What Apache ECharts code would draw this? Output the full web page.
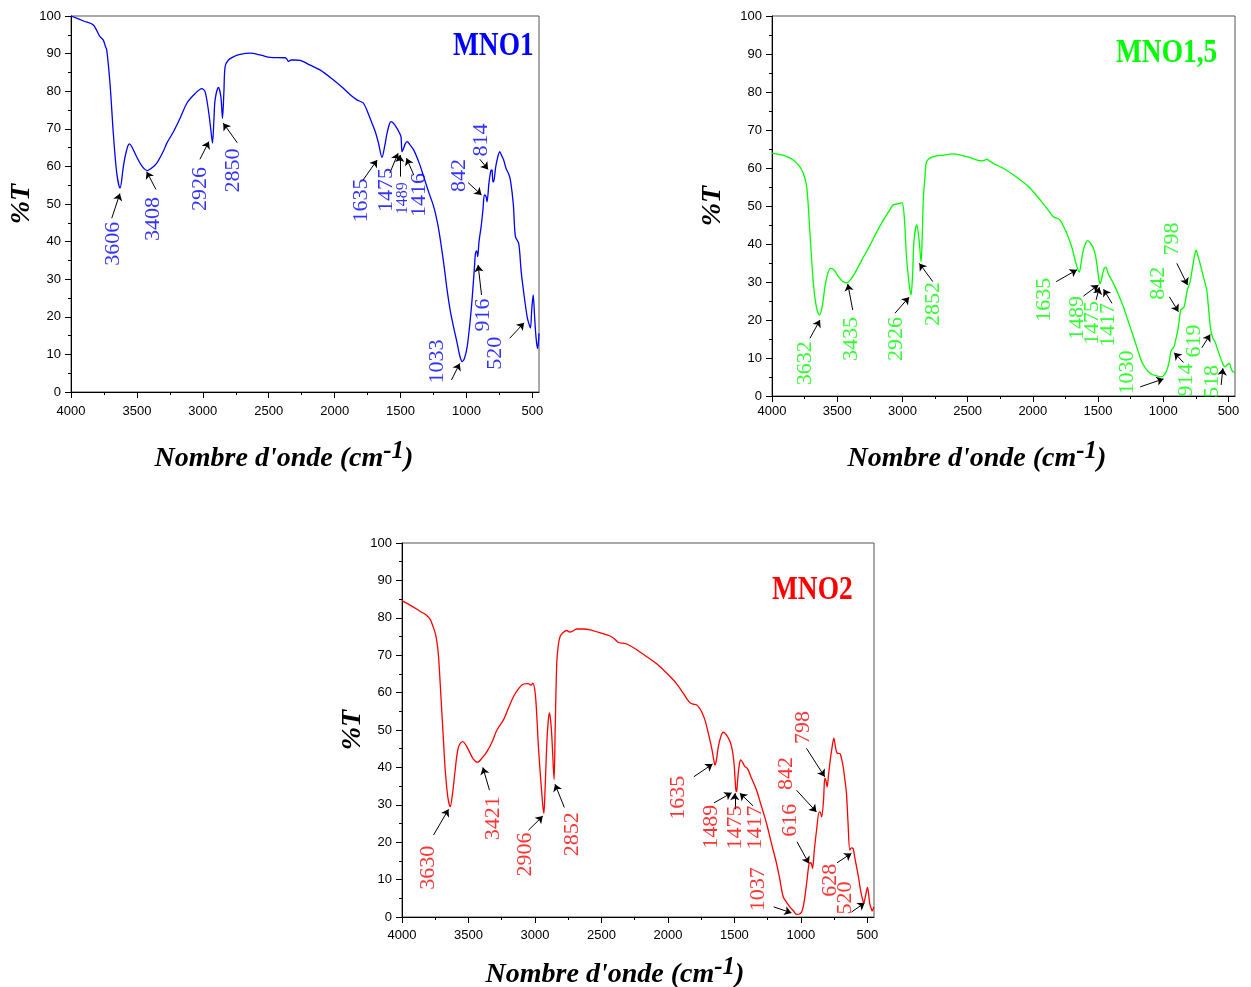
<!DOCTYPE html>
<html>
<head>
<meta charset="utf-8">
<title>FTIR MNO</title>
<script src="https://cdn.jsdelivr.net/npm/echarts@6.0.0/dist/echarts.min.js"></script>
<style>
  html, body { margin: 0; padding: 0; background: #fff; }
  #chart { width: 1251px; height: 987px; }
</style>
</head>
<body>
<div id="chart"></div>
<script>
// --- MNO1 spectrum ---
const mno1Wn = [4000, 3900, 3831, 3780, 3755, 3740, 3729, 3704, 3679, 3653, 3628, 3603, 3590, 3570, 3557, 3540, 3501, 3460, 3421, 3390, 3349, 3300, 3273, 3223, 3170, 3121, 3060, 3008, 2983, 2958, 2940, 2927, 2915, 2907, 2882, 2863, 2851, 2840, 2831, 2806, 2760, 2717, 2641, 2560, 2489, 2375, 2360, 2350, 2330, 2300, 2261, 2190, 2109, 2020, 1932, 1880, 1831, 1800, 1781, 1750, 1717, 1690, 1667, 1641, 1620, 1603, 1585, 1573, 1550, 1527, 1510, 1497, 1489, 1477, 1465, 1451, 1430, 1401, 1360, 1325, 1290, 1249, 1220, 1198, 1170, 1147, 1125, 1109, 1090, 1071, 1050, 1033, 1015, 995, 975, 958, 940, 932, 923, 915, 905, 889, 875, 864, 852, 844, 830, 819, 812, 806, 800, 794, 780, 768, 748, 735, 718, 700, 680, 667, 645, 629, 604, 585, 565, 540, 528, 515, 505, 494, 485, 477, 468, 460, 450];
const mno1T = [100, 98.6, 97.6, 94.5, 93.6, 92, 91, 82, 68.8, 58.2, 54.2, 59.9, 62.5, 65.3, 66, 65.3, 62.5, 60, 58.9, 59.5, 60.9, 64, 66.2, 69.2, 73, 76.8, 79.3, 80.7, 79.9, 75, 70, 66.2, 73, 77.7, 81, 78.5, 72.8, 80, 86.5, 88.3, 89.3, 89.8, 90.1, 89.6, 89.0, 88.9, 88.4, 87.9, 88.3, 88.3, 88.2, 87, 85.6, 83.3, 80.7, 79, 77.7, 77.2, 76.8, 74.5, 71.5, 69, 66.1, 62.4, 65.5, 68.8, 71.2, 71.9, 71.3, 70.1, 69, 67.9, 63.9, 64.8, 66, 66.6, 65.8, 64.4, 61, 57.3, 53.5, 49.3, 45, 40.4, 33.5, 27.1, 22, 19.1, 16, 13, 9.5, 8.1, 9, 12, 18, 24.5, 33, 36.9, 37.5, 36, 40, 44, 48.5, 52.4, 52, 50.6, 55.5, 58.2, 59.1, 59, 56, 55.9, 59.5, 61.7, 63.9, 63, 61.7, 59.5, 58, 56.4, 50, 41.3, 39.5, 32, 26.2, 20, 18.3, 17, 22, 25.8, 21, 16.5, 13, 11.6, 15.6];
const mno1Peaks = ['3606', '3408', '2926', '2850', '1635', '1475', '1489', '1416', '842', '814', '916', '1033', '520'];
const mno1LabelAt = [[3679, 39.4], [3376, 46.0], [3022, 54.0], [2770, 58.9], [1796, 50.9], [1607, 53.7], [1481, 51.5], [1362, 52.4], [1055, 57.6], [892, 67.0], [874, 20.5], [1220, 8.1], [785, 10.3]];
const mno1Arrows = [
  [[3691, 46.2], [3629, 52.8]], [[3356, 53.9], [3426, 58.6]], [[3022, 61.9], [2954, 66.6]],
  [[2739, 66.3], [2845, 71.5]], [[1784, 56.4], [1678, 61.7]], [[1582, 58.2], [1519, 63.5]],
  [[1506, 57.3], [1506, 63.0]], [[1400, 57.7], [1455, 62.2]], [[988, 55.7], [886, 52.4]],
  [[899, 61.9], [836, 59.2]], [[886, 25.8], [912, 33.8]], [[1114, 3.2], [1051, 7.6]],
  [[672, 14.3], [563, 18.4]]
];

// --- MNO1,5 spectrum ---
const mno15Wn = [4000, 3900, 3837, 3790, 3760, 3734, 3709, 3683, 3660, 3637, 3615, 3594, 3570, 3550, 3520, 3491, 3460, 3427, 3390, 3351, 3300, 3248, 3200, 3146, 3100, 3070, 3030, 3005, 2988, 2967, 2945, 2934, 2922, 2911, 2890, 2872, 2857, 2848, 2840, 2826, 2814, 2763, 2680, 2610, 2500, 2392, 2370, 2354, 2330, 2303, 2220, 2150, 2047, 1990, 1932, 1880, 1843, 1810, 1791, 1770, 1740, 1700, 1676, 1655, 1643, 1630, 1613, 1590, 1579, 1555, 1536, 1520, 1510, 1495, 1485, 1475, 1464, 1452, 1441, 1420, 1383, 1345, 1306, 1268, 1229, 1195, 1165, 1140, 1114, 1080, 1050, 1020, 999, 973, 955, 942, 930, 917, 900, 884, 866, 850, 840, 828, 815, 794, 775, 760, 748, 735, 718, 690, 667, 650, 636, 620, 603, 585, 564, 540, 526, 510, 493, 484, 475, 460, 450];
const mno15T = [63.9, 63.2, 62.1, 60.5, 58.6, 55.1, 42.9, 29.7, 23.5, 21.3, 23.5, 28.8, 32.5, 33.6, 33, 31.4, 30.2, 29.8, 31, 33.2, 36.5, 39.7, 43, 46.3, 48.8, 50.3, 50.6, 50.9, 48.1, 35.8, 28.5, 26.6, 32, 41, 45, 41, 35.3, 42, 51.6, 58, 61.7, 63, 63.4, 63.7, 62.9, 61.9, 62, 62.3, 61.8, 61.2, 59.8, 58.2, 55.5, 53.5, 51.1, 48.8, 47.2, 46.7, 46.3, 45, 42.8, 39, 35.8, 33.3, 32.6, 35, 38.4, 40.6, 40.9, 40, 38.9, 37, 34.9, 31, 29.5, 30.5, 32.3, 33.6, 33.9, 32, 29.7, 26.8, 23.5, 19.6, 15.6, 12, 9, 7.5, 6.4, 5.6, 5.3, 5.1, 5.3, 6.8, 9, 11.7, 12.4, 13, 15.5, 18.2, 22.6, 23.1, 23.5, 25.5, 27.9, 30.1, 34, 37, 38.4, 37, 34.9, 31, 27.9, 22, 17.4, 15.2, 14.3, 12.4, 10.3, 8.2, 7.7, 8.2, 8.6, 7.8, 6.8, 6.3, 6.4];
const mno15Peaks = ['3632', '3435', '2926', '2852', '1635', '1489', '1475', '1417', '1030', '842', '798', '914', '619', '518'];
const mno15LabelAt = [[3747, 8.6], [3389, 15.0], [3044, 15.0], [2763, 24.2], [1911, 25.3], [1657, 20.5], [1542, 19.2], [1420, 18.7], [1273, 6.2], [1042, 29.7], [929, 41.3], [826, 4.2], [763, 14.5], [621, 3.8]];
const mno15Arrows = [
  [[3709, 15.2], [3632, 20.0]], [[3381, 22.6], [3419, 29.5]], [[3057, 21.8], [2949, 26.0]],
  [[2767, 30.1], [2870, 34.9]], [[1821, 30.1], [1662, 33.2]], [[1612, 26.3], [1497, 29.2]],
  [[1515, 25.3], [1490, 28.6]], [[1394, 24.4], [1458, 28.1]], [[1177, 2.4], [998, 4.5]],
  [[953, 26.1], [884, 22.2]], [[896, 34.9], [814, 29.2]], [[845, 8.8], [916, 11.4]],
  [[704, 12.7], [640, 16.2]], [[556, 2.9], [543, 7.3]]
];

// --- MNO2 spectrum ---
const mno2Wn = [4000, 3930, 3862, 3820, 3787, 3765, 3750, 3737, 3725, 3712, 3700, 3687, 3675, 3655, 3637, 3620, 3600, 3588, 3575, 3560, 3542, 3520, 3500, 3465, 3432, 3400, 3361, 3320, 3286, 3237, 3200, 3162, 3120, 3086, 3050, 3030, 3016, 2998, 2985, 2974, 2955, 2940, 2933, 2925, 2911, 2900, 2891, 2882, 2873, 2862, 2856, 2848, 2836, 2825, 2811, 2790, 2760, 2740, 2723, 2685, 2640, 2585, 2500, 2440, 2410, 2385, 2372, 2340, 2310, 2240, 2159, 2080, 2009, 1940, 1884, 1855, 1834, 1810, 1784, 1765, 1746, 1720, 1696, 1670, 1655, 1646, 1635, 1621, 1600, 1584, 1560, 1533, 1515, 1503, 1495, 1489, 1483, 1477, 1471, 1462, 1453, 1437, 1421, 1410, 1396, 1370, 1333, 1300, 1258, 1220, 1183, 1158, 1133, 1105, 1083, 1055, 1032, 1010, 995, 982, 970, 955, 938, 925, 912, 900, 882, 862, 852, 844, 830, 820, 812, 802, 792, 782, 765, 752, 740, 727, 707, 695, 682, 670, 657, 645, 632, 620, 607, 595, 581, 566, 551, 538, 527, 512, 499, 490, 482, 470, 464, 455, 450];
const mno2T = [84.6, 83.2, 81.7, 80.8, 79.5, 77.5, 75.9, 73.5, 69.6, 62, 54.5, 46.5, 39.3, 32, 29.5, 33, 39.3, 43, 45.5, 46.5, 46.9, 46, 44.7, 42.3, 41.4, 42.4, 44.2, 47, 50, 52.7, 55.8, 58.9, 61.2, 62.3, 62.4, 62, 62.5, 59.8, 53, 45.5, 36, 29.5, 27.7, 33, 46.4, 52.5, 54.6, 52.5, 48.2, 40, 36.8, 50, 67.9, 72.5, 75, 76, 76.6, 76.2, 76.3, 77, 77, 76.8, 75.9, 75.2, 74.6, 73.8, 73.4, 73.2, 73, 71.6, 69.6, 67.6, 65.2, 62.6, 59.8, 58.2, 57.3, 56.9, 56.7, 56, 54.9, 52.5, 49.1, 45, 42, 40.6, 42, 45.5, 48.5, 49.4, 48.7, 46.9, 44.5, 41.1, 37, 34, 33.5, 36, 38.4, 41, 42, 41.3, 40.2, 40, 39.3, 37, 33.9, 30, 25, 19.5, 14.3, 10, 5.4, 3.8, 2.7, 1.6, 0.7, 0.8, 1.3, 2.8, 5.4, 9.5, 14.3, 14.5, 13, 17.5, 23.2, 28.1, 27.8, 26.8, 31, 37.1, 36.5, 34.8, 38, 41.1, 45.5, 47.8, 45.5, 43.8, 43.7, 42.5, 40.2, 37, 33, 25, 17.9, 18.5, 18.3, 16, 13.4, 10.5, 7.1, 5, 3.8, 6, 7.9, 6, 3.6, 2.2, 1.6, 2.3, 2.7];
const mno2Peaks = ['3630', '3421', '2906', '2852', '1635', '1489', '1475', '1417', '1037', '616', '842', '798', '628', '520'];
const mno2LabelAt = [[3800, 13.2], [3312, 26.4], [3074, 16.7], [2723, 22.1], [1922, 31.9], [1672, 24.1], [1497, 23.9], [1346, 23.9], [1322, 7.4], [1080, 25.9], [1108, 38.4], [984, 50.7], [777, 9.8], [670, 5.1]];
const mno2Arrows = [
  [[3763, 21.9], [3650, 28.8]], [[3342, 33.9], [3392, 40.0]], [[3049, 23.2], [2941, 27.0]],
  [[2779, 29.3], [2849, 35.5]], [[1805, 37.5], [1664, 40.9]], [[1654, 30.5], [1521, 33.2]],
  [[1497, 28.8], [1497, 33.1]], [[1359, 29.7], [1459, 33.1]], [[1204, 2.7], [1071, 1.1]],
  [[1029, 20.1], [939, 14.3]], [[1033, 33.9], [883, 28.1]], [[958, 45.1], [821, 37.5]],
  [[728, 14.5], [620, 17.0]], [[620, 1.3], [520, 3.8]]
];

// tick labels of the wavenumber axis
const xLabelTicks = [4000, 3500, 3000, 2500, 2000, 1500, 1000, 500];

const SERIF = '"Times New Roman", "Liberation Serif", serif';
const SANS = 'Arial, "Liberation Sans", sans-serif';

const chart = echarts.init(document.getElementById('chart'));

const grids = [
  { left: 71, top: 16, width: 468, height: 376 },
  { left: 772, top: 16, width: 463, height: 380 },
  { left: 402, top: 543, width: 472, height: 374 }
];
const xNameGaps = [47, 43, 38];
const xNameShift = [42, 53, 46];
const xLabelMargins = [13, 9, 12];
const yNameGaps = [34, 45, 35];

const xAxes = grids.map((g, i) => ({
  gridIndex: i,
  type: 'value',
  inverse: true,
  min: 450,
  max: 4000,
  splitNumber: 7,
  splitLine: { show: false },
  axisLine: { lineStyle: { color: '#000', width: 1 } },
  axisTick: { inside: false, length: 6, customValues: xLabelTicks, lineStyle: { color: '#000' } },
  minorTick: { show: true, splitNumber: 2, length: 3, lineStyle: { color: '#000' } },
  axisLabel: { customValues: xLabelTicks, formatter: v => String(v), color: '#000', fontFamily: SANS, fontSize: 13, margin: xLabelMargins[i] },
  name: "{a|Nombre d'onde (cm}{s|-1}{a|)}",
  nameLocation: 'middle',
  nameGap: xNameGaps[i],
  nameTextStyle: {
    padding: [0, xNameShift[i], 0, 0],
    rich: {
      a: { fontFamily: SERIF, fontStyle: 'italic', fontWeight: 'bold', fontSize: 28, color: '#000' },
      s: { fontFamily: SERIF, fontStyle: 'italic', fontWeight: 'bold', fontSize: 25, color: '#000', verticalAlign: 'bottom', padding: [0, 0, 15, 0] }
    }
  }
}));

const yAxes = grids.map((g, i) => ({
  gridIndex: i,
  type: 'value',
  min: 0,
  max: 100,
  interval: 10,
  splitLine: { show: false },
  axisLine: { lineStyle: { color: '#000', width: 1 } },
  axisTick: { inside: false, length: 6, lineStyle: { color: '#000' } },
  minorTick: { show: true, splitNumber: 2, length: 3, lineStyle: { color: '#000' } },
  axisLabel: { color: '#000', fontFamily: SANS, fontSize: 13, margin: 10 },
  name: '%T',
  nameLocation: 'middle',
  nameRotate: 90,
  nameGap: yNameGaps[i],
  nameTextStyle: { fontFamily: SERIF, fontStyle: 'italic', fontWeight: 'bold', fontSize: 28, color: '#000' }
}));

function zip(a, b) {
  return a.map((v, k) => [v, b[k]]);
}

function buildSeries(idx, wn, t, color, peaks, labelAt, arrows, small) {
  return [
    {
      type: 'line',
      xAxisIndex: idx,
      yAxisIndex: idx,
      data: zip(wn, t),
      showSymbol: false,
      smooth: 0.3,
      lineStyle: { color: color, width: 1.3 },
      animation: false
    },
    {
      type: 'scatter',
      xAxisIndex: idx,
      yAxisIndex: idx,
      symbolSize: 0,
      animation: false,
      data: peaks.map((p, k) => ({
        name: p,
        value: labelAt[k],
        label: small.indexOf(p) >= 0 ? { fontSize: 16 } : undefined
      })),
      label: {
        show: true,
        position: 'inside',
        rotate: 90,
        formatter: '{b}',
        color: color,
        fontFamily: SERIF,
        fontSize: 22
      }
    },
    {
      type: 'lines',
      coordinateSystem: 'cartesian2d',
      xAxisIndex: idx,
      yAxisIndex: idx,
      symbol: ['none', 'arrow'],
      symbolSize: 7,
      animation: false,
      lineStyle: { color: '#000', width: 1, opacity: 1 },
      data: arrows.map(a => ({ coords: a }))
    }
  ];
}

// sample names, drawn with tight (condensed) letters like the original
const sampleTitle = (text, x, y, c) => ({
  type: 'text',
  x: x,
  y: y,
  scaleX: 0.83,
  style: { text: text, fill: c, font: 'bold 33px ' + SERIF, verticalAlign: 'top' }
});

const option = {
  backgroundColor: '#fff',
  animation: false,
  graphic: [
    sampleTitle('MNO1', 453, 30, '#0000ff'),
    sampleTitle('MNO1,5', 1116, 37, '#00ff00'),
    sampleTitle('MNO2', 772, 574, '#ff0000')
  ],
  // outerBoundsMode 'none': keep the grids exactly where they are set
  grid: grids.map(g => Object.assign({ show: true, borderColor: '#555', borderWidth: 1, outerBoundsMode: 'none' }, g)),
  xAxis: xAxes,
  yAxis: yAxes,
  series: [].concat(
    buildSeries(0, mno1Wn, mno1T, '#0000ff', mno1Peaks, mno1LabelAt, mno1Arrows, ['1489']),
    buildSeries(1, mno15Wn, mno15T, '#00ff00', mno15Peaks, mno15LabelAt, mno15Arrows, []),
    buildSeries(2, mno2Wn, mno2T, '#ff0000', mno2Peaks, mno2LabelAt, mno2Arrows, [])
  )
};

chart.setOption(option);
</script>
</body>
</html>
